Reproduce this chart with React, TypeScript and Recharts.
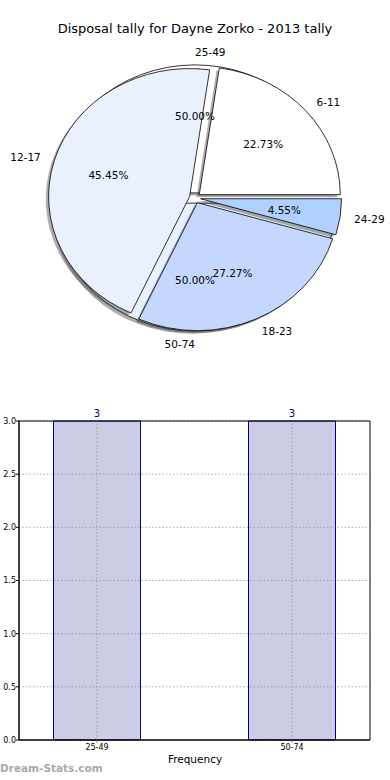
import React from 'react'
import { PieChart, Pie, Cell, BarChart, Bar, XAxis, YAxis, ReferenceLine, LabelList, ReferenceArea } from 'recharts'

// pie: disposal tally groups
const tallyNames = ['6-11', '12-17', '18-23', '24-29']
const tallyValues = [5, 10, 6, 1]

// second pie / histogram bins
const binNames = ['25-49', '50-74']
const binCounts = [3, 3]

const yTicks = [0, 0.5, 1, 1.5, 2, 2.5, 3]

const pieColors = ['#ffffff', '#eaf0fe', '#c4d8ff', '#b0d0ff']

const RAD = Math.PI / 180
const RY_RATIO = 128 / 141
const EXPLODE = 0.04
const FONT = '"DejaVu Sans", "Liberation Sans", sans-serif'

const tallyData = tallyNames.map((name, i) => ({ name, value: tallyValues[i] }))
const binPieData = binNames.map((name, i) => ({ name, value: binCounts[i] }))
const binBarData = binNames.map((name, i) => ({ x: i, name, count: binCounts[i] }))

function explodedCenter(cx: number, cy: number, rx: number, ry: number, mid: number) {
  return [cx + EXPLODE * rx * Math.cos(mid * RAD), cy - EXPLODE * ry * Math.sin(mid * RAD)]
}

function wedgePath(ox: number, oy: number, rx: number, ry: number, a0: number, a1: number) {
  const x0 = ox + rx * Math.cos(a0 * RAD)
  const y0 = oy - ry * Math.sin(a0 * RAD)
  const x1 = ox + rx * Math.cos(a1 * RAD)
  const y1 = oy - ry * Math.sin(a1 * RAD)
  const large = Math.abs(a1 - a0) > 180 ? 1 : 0
  return `M${ox},${oy} L${x0},${y0} A${rx},${ry} 0 ${large} 0 ${x1},${y1} Z`
}

function EllipseWedge(props: any) {
  const { cx, cy, outerRadius, startAngle, endAngle, fill } = props
  const rx = outerRadius
  const ry = outerRadius * RY_RATIO
  const [ox, oy] = explodedCenter(cx, cy, rx, ry, (startAngle + endAngle) / 2)
  return (
    <g>
      <path d={wedgePath(ox - 2.8, oy + 2.6, rx, ry, startAngle, endAngle)} fill="#4a4a4a" fillOpacity={0.45} />
      <path d={wedgePath(ox, oy, rx, ry, startAngle, endAngle)} fill={fill} stroke="#000" strokeWidth={0.8} />
    </g>
  )
}

const HiddenWedge = () => <g />

function wedgeLabel(props: any) {
  const { cx, cy, midAngle, outerRadius, percent } = props
  const name = props.payload?.name ?? props.name
  const rx = outerRadius
  const ry = outerRadius * RY_RATIO
  const [ox, oy] = explodedCenter(cx, cy, rx, ry, midAngle)
  const c = Math.cos(midAngle * RAD)
  const s = Math.sin(midAngle * RAD)
  return (
    <g>
      <text x={ox + 1.1 * rx * c} y={oy - 1.1 * ry * s} textAnchor={c > 0 ? 'start' : 'end'}
        dominantBaseline="central" fontSize={10.5} fontFamily={FONT} fill="#000">{name}</text>
      <text x={ox + 0.6 * rx * c} y={oy - 0.6 * ry * s} textAnchor="middle"
        dominantBaseline="central" fontSize={10.5} fontFamily={FONT} fill="#000">{`${(percent * 100).toFixed(2)}%`}</text>
    </g>
  )
}

export default function App() {
  return (
    <div style={{ position: 'absolute', left: 0, top: 0, width: 390, height: 780, background: '#fff', fontFamily: FONT }}>
      <div style={{ position: 'absolute', top: 21, left: 0, width: 390, textAlign: 'center', fontSize: 13, color: '#000' }}>
        Disposal tally for Dayne Zorko - 2013 tally
      </div>

      <div style={{ position: 'absolute', top: 0, left: 0 }}>
        <PieChart width={390} height={370} margin={{ top: 0, right: 0, bottom: 0, left: 0 }}>
          {/* bins pie sits underneath, only peeks through the gaps */}
          <Pie data={binPieData} dataKey="value" nameKey="name" cx={195} cy={198} outerRadius={141}
            startAngle={0} endAngle={360} shape={EllipseWedge} activeShape={EllipseWedge} inactiveShape={EllipseWedge}
            label={false} labelLine={false} isAnimationActive={false}>
            {binPieData.map((d, i) => <Cell key={d.name} fill={pieColors[i]} />)}
          </Pie>
          <Pie data={tallyData} dataKey="value" nameKey="name" cx={195} cy={198} outerRadius={141}
            startAngle={0} endAngle={360} shape={EllipseWedge} activeShape={EllipseWedge} inactiveShape={EllipseWedge}
            label={wedgeLabel} labelLine={false} isAnimationActive={false}>
            {tallyData.map((d, i) => <Cell key={d.name} fill={pieColors[i]} />)}
          </Pie>
          <Pie data={binPieData} dataKey="value" nameKey="name" cx={195} cy={198} outerRadius={141}
            startAngle={0} endAngle={360} shape={HiddenWedge} activeShape={HiddenWedge} inactiveShape={HiddenWedge}
            label={wedgeLabel} labelLine={false} isAnimationActive={false} />
        </PieChart>
      </div>

      <div style={{ position: 'absolute', top: 390, left: 0 }}>
        <BarChart width={390} height={390} data={binBarData} margin={{ top: 31, right: 20, bottom: 22, left: 0 }}>
          <XAxis dataKey="x" type="number" domain={[-0.4, 1.4]} ticks={[0, 1]} allowDataOverflow
            tickFormatter={(v: number) => binNames[v] ?? ''} tick={{ fontSize: 8, fill: '#000', fontFamily: FONT }}
            axisLine={{ stroke: '#000' }} tickLine={{ stroke: '#999' }} tickSize={3} tickMargin={1} height={18} />
          <YAxis type="number" domain={[0, 3]} ticks={yTicks} width={19}
            tickFormatter={(v: number) => v.toFixed(1)} tick={{ fontSize: 8, fill: '#000', fontFamily: FONT }}
            axisLine={{ stroke: '#000' }} tickLine={{ stroke: '#000' }} tickSize={3} tickMargin={0} />
          <Bar dataKey="count" barSize={87} fill="#ccccE6" stroke="#000080" strokeWidth={1} isAnimationActive={false}>
            <LabelList dataKey="count" position="top" offset={4} fill="#000080" fontSize={10} fontFamily={FONT} />
          </Bar>
          {/* dotted grid drawn over the bars, like the original */}
          {yTicks.map(t => (
            <ReferenceLine key={`h${t}`} y={t} stroke="#8a8a8a" strokeOpacity={0.7} strokeDasharray="1.5 2" zIndex={600} />
          ))}
          {binBarData.map(d => (
            <ReferenceLine key={`v${d.x}`} x={d.x} stroke="#8a8a8a" strokeOpacity={0.7} strokeDasharray="1.5 2" zIndex={600} />
          ))}
          <ReferenceArea x1={-0.4} x2={1.4} y1={0} y2={3} fill="none" stroke="#000" strokeWidth={1} ifOverflow="visible" zIndex={700} />
        </BarChart>
      </div>

      <div style={{ position: 'absolute', top: 753, left: 0, width: 390, textAlign: 'center', fontSize: 10.5, color: '#000' }}>
        Frequency
      </div>
      <div style={{ position: 'absolute', top: 762, left: 0, fontSize: 10.5, fontWeight: 'bold', color: '#a8a8a8' }}>
        Dream-Stats.com
      </div>
    </div>
  )
}
